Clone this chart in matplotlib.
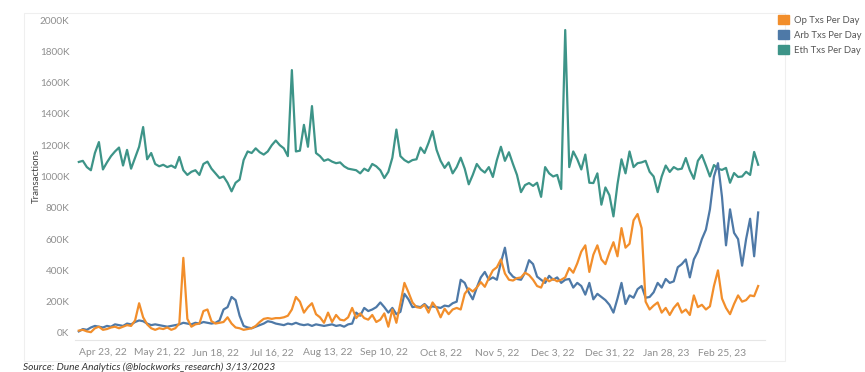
import numpy as np
import pandas as pd
import matplotlib
matplotlib.use("Agg")
import matplotlib.pyplot as plt
from matplotlib.patches import Patch, Rectangle

plt.rcParams["font.family"] = ["Lato", "DejaVu Sans"]

# daily tx counts (thousands), sampled every 2 days from Apr 11, 2022
dates = pd.date_range("2022-04-11", periods=170, freq="2D")

eth = [1093, 1100, 1060, 1040, 1150, 1220, 1045, 1090, 1130, 1160,
       1185, 1070, 1170, 1050, 1120, 1190, 1316, 1110, 1150, 1080,
       1065, 1075, 1060, 1070, 1055, 1125, 1040, 1010, 1030, 1040,
       1010, 1080, 1095, 1050, 1020, 990, 1000, 960, 905, 960,
       980, 1105, 1160, 1150, 1180, 1155, 1140, 1160, 1200, 1230,
       1200, 1180, 1130, 1680, 1160, 1165, 1330, 1190, 1450, 1150,
       1130, 1100, 1110, 1095, 1085, 1090, 1065, 1050, 1045, 1040,
       1020, 1050, 1035, 1080, 1065, 1040, 990, 1030, 1120, 1300,
       1130, 1105, 1090, 1105, 1110, 1185, 1150, 1215, 1290, 1170,
       1100, 1055, 1090, 1020, 1060, 1120, 1050, 950, 1010, 1080,
       1045, 1025, 1060, 997, 1105, 1190, 1100, 1155, 1080, 1010,
       900, 945, 958, 940, 960, 870, 1060, 1020, 1000, 1010,
       920, 1936, 1060, 1160, 1110, 1045, 1140, 960, 958, 1020,
       820, 930, 880, 745, 950, 1110, 1020, 1160, 1060, 1085,
       1090, 1100, 1030, 1000, 900, 1000, 1070, 1029, 1060, 1045,
       1050, 1118, 1040, 985, 1100, 1137, 1070, 1000, 1073, 1050,
       1042, 1055, 960, 1022, 997, 1000, 1030, 1010, 1157, 1075]

arb = [10, 25, 20, 35, 45, 40, 35, 45, 40, 55,
       50, 45, 60, 55, 70, 80, 75, 60, 50, 55,
       50, 45, 40, 45, 50, 55, 65, 60, 55, 65,
       60, 70, 65, 60, 65, 80, 150, 165, 230, 210,
       110, 45, 35, 30, 40, 50, 60, 75, 70, 60,
       55, 50, 60, 55, 65, 55, 50, 55, 45, 55,
       50, 45, 50, 55, 45, 50, 40, 55, 60, 130,
       110, 160, 140, 150, 165, 195, 165, 130, 160, 120,
       135, 250, 215, 165, 170, 165, 185, 160, 170, 165,
       160, 175, 170, 190, 200, 340, 320, 260, 215, 290,
       355, 390, 340, 355, 340, 450, 545, 390, 360, 345,
       340, 385, 465, 440, 360, 340, 320, 365, 340, 355,
       320, 340, 345, 290, 320, 300, 245, 320, 215, 250,
       230, 210, 180, 130, 220, 320, 185, 240, 225, 280,
       300, 225, 230, 260, 320, 290, 345, 320, 330, 420,
       440, 470, 355, 470, 520, 600, 660, 790, 1000, 1085,
       870, 560, 790, 640, 600, 430, 600, 730, 490, 770]

op = [15, 20, 10, 5, 30, 40, 20, 25, 35, 40,
      30, 40, 50, 45, 80, 190, 100, 55, 30, 20,
      30, 25, 35, 20, 30, 60, 480, 90, 40, 55,
      60, 140, 150, 75, 60, 65, 70, 100, 60, 35,
      30, 20, 25, 30, 45, 70, 90, 95, 90, 95,
      95, 100, 110, 150, 230, 200, 130, 165, 190, 120,
      100, 65, 130, 70, 115, 85, 80, 100, 160, 95,
      125, 95, 85, 115, 70, 85, 125, 40, 150, 65,
      190, 320, 260, 195, 165, 160, 180, 130, 195, 160,
      100, 155, 120, 150, 160, 150, 250, 285, 265, 290,
      325, 295, 350, 400, 420, 470, 380, 340, 335, 350,
      355, 385, 370, 340, 300, 290, 350, 330, 345, 330,
      340, 355, 415, 385, 445, 520, 560, 390, 500, 560,
      470, 440, 515, 580, 490, 670, 545, 570, 720, 760,
      670, 200, 150, 175, 195, 130, 160, 115, 160, 190,
      130, 150, 115, 240, 165, 180, 150, 170, 300, 400,
      220, 160, 120, 185, 240, 200, 210, 240, 235, 300]

tick_dates = pd.date_range("2022-04-23", periods=12, freq="28D")
tick_labels = ["Apr 23, 22", "May 21, 22", "Jun 18, 22", "Jul 16, 22",
               "Aug 13, 22", "Sep 10, 22", "Oct 8, 22", "Nov 5, 22",
               "Dec 3, 22", "Dec 31, 22", "Jan 28, 23", "Feb 25, 23"]
y_ticks = [0, 200, 400, 600, 800, 1000, 1200, 1400, 1600, 1800, 2000]

c_op = "#f28e2b"
c_arb = "#4e79a7"
c_eth = "#3d9488"

fig = plt.figure(figsize=(8.65, 3.72), dpi=100)
ax = fig.add_axes([75 / 865, 1 - 340 / 372, 690 / 865, 327.8 / 372])

ax.plot(dates, eth, color=c_eth, lw=1.6)
ax.plot(dates, arb, color=c_arb, lw=1.6)
ax.plot(dates, op, color=c_op, lw=1.6)

ax.set_ylim(-45, 2050)
ax.set_yticks(y_ticks)
ax.set_yticklabels([f"{v}K" for v in y_ticks])
start = pd.Timestamp("2022-04-23")
ax.set_xlim(start - pd.Timedelta(days=13.9), start + pd.Timedelta(days=329.4))
ax.set_xticks(tick_dates)
ax.set_xticklabels(tick_labels)
ax.tick_params(axis="both", length=0, labelsize=7.2, labelcolor="#8f8f8f")
ax.tick_params(axis="x", pad=6, labelsize=7.4)
ax.tick_params(axis="y", pad=4)
for s in ["top", "right", "left"]:
    ax.spines[s].set_visible(False)
ax.spines["bottom"].set_color("#e6e6e6")
ax.spines["bottom"].set_linewidth(0.8)

ax.set_ylabel("Transactions", fontsize=7, color="#444444", labelpad=-1)

# faint panel border like the source screenshot
fig.add_artist(Rectangle((24 / 865, 1 - 361 / 372), 761 / 865, 348 / 372,
                         transform=fig.transFigure, fill=False,
                         edgecolor="#efefef", lw=0.8))

handles = [Patch(color=c_op, label="Op Txs Per Day"),
           Patch(color=c_arb, label="Arb Txs Per Day"),
           Patch(color=c_eth, label="Eth Txs Per Day")]
fig.legend(handles=handles, loc="upper left", bbox_to_anchor=(0.893, 0.975),
           frameon=False, fontsize=6.8, handlelength=1.1, handleheight=1.1,
           handletextpad=0.6, labelspacing=0.55, labelcolor="#555555",
           borderaxespad=0.2)

fig.text(23 / 865, 0.0, "Source: Dune Analytics (@blockworks_research) 3/13/2023",
         fontsize=7.3, style="italic", color="#333333", va="bottom", ha="left")

fig.savefig("out.png", dpi=100)
